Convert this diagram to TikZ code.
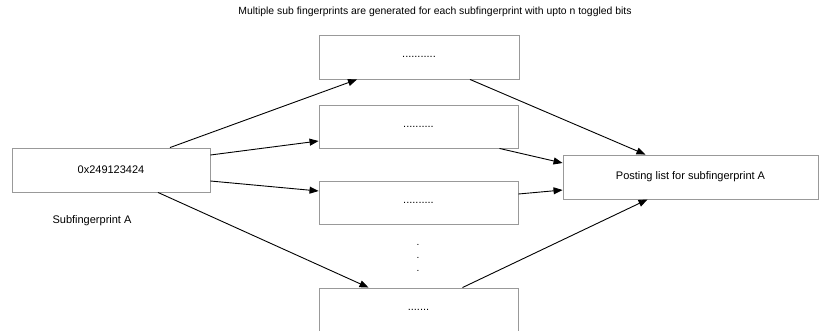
\documentclass[tikz,border=0pt]{standalone}
\usepackage{fontspec}
\setmainfont{Liberation Sans}
\usetikzlibrary{arrows.meta}

\tikzset{
  box/.style={draw=black!40, line width=0.9pt, rectangle, inner sep=0pt, font=\fontsize{11}{13}\selectfont},
  link/.style={line width=0.9pt, -{Triangle[length=9pt,width=7pt]}}
}

\begin{document}
\begin{tikzpicture}[x=1pt, y=-1pt]

\useasboundingbox (0,0) rectangle (820,330);

\node at (435,12) {\fontsize{10.4}{12}\selectfont Multiple sub fingerprints are generated for each subfingerprint with upto n toggled bits};

\node[box, minimum width=198pt, minimum height=44pt] (src) at (111,170) {0x249123424};
\node at (92,221) {\fontsize{11}{13}\selectfont Subfingerprint A};

\node[box, minimum width=200pt, minimum height=44pt] (sub1) at (419,57) {...........};
\node[box, minimum width=199pt, minimum height=43pt] (sub2) at (418.5,126.5) {..........};
\node[box, minimum width=199pt, minimum height=43pt] (sub3) at (418.5,202.5) {..........};
\node[box, minimum width=199pt, minimum height=44pt] (sub4) at (418.5,310) {.......};

\node (dotA) at (418,245) {.};
\node (dotB) at (418,258) {.};
\node (dotC) at (418,271) {.};

\node[box, minimum width=255pt, minimum height=44pt] (post) at (690.5,177) {Posting list for subfingerprint A};

% fan out
\draw[link] ([xshift=59pt]src.north) -- ([xshift=-62pt]sub1.south);
\draw[link] ([yshift=15pt]src.east) -- ([yshift=-14.5pt]sub2.west);
\draw[link] ([yshift=-11pt]src.east) -- ([yshift=11.5pt]sub3.west);
\draw[link] ([xshift=47pt]src.south) -- ([xshift=-50pt]sub4.north);

% fan in
\draw[link] ([xshift=51pt]sub1.south) -- ([xshift=-45pt]post.north);
\draw[link] ([xshift=81pt]sub2.south) -- ([yshift=14pt]post.west);
\draw[link] ([yshift=8.5pt]sub3.east) -- ([yshift=-13pt]post.west);
\draw[link] ([xshift=44pt]sub4.north) -- ([xshift=-43pt]post.south);

\end{tikzpicture}
\end{document}
